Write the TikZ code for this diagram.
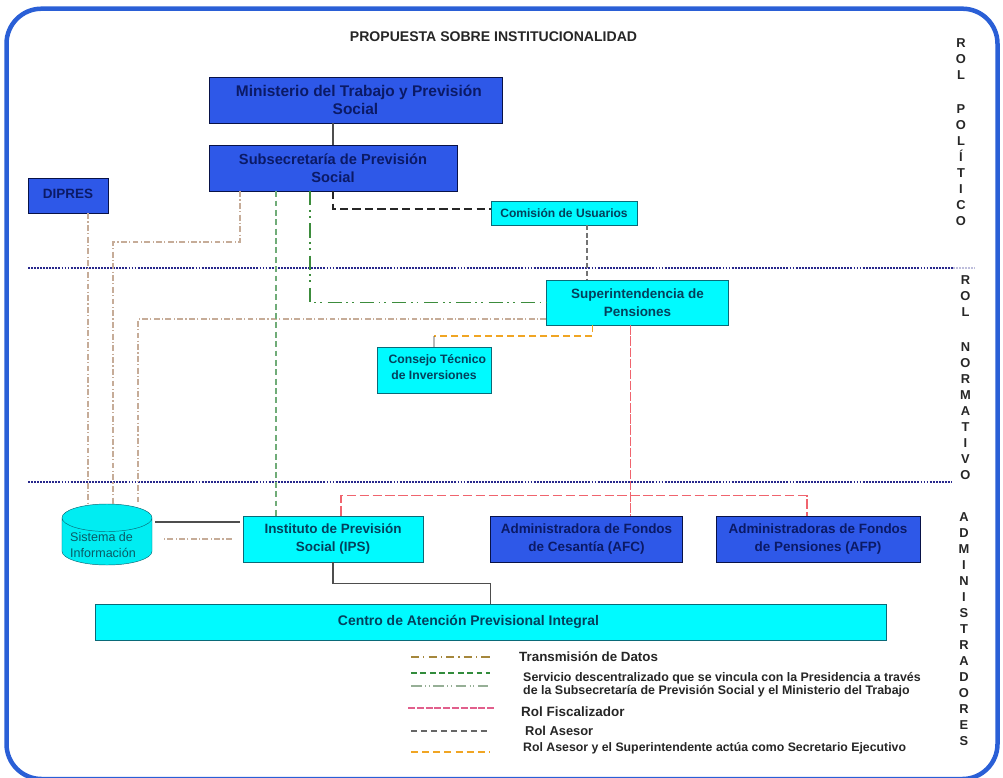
\documentclass[tikz,border=0pt]{standalone}
\usepackage{fontspec}
\setmainfont{Liberation Sans}
\usepackage[HTML]{xcolor}
\usetikzlibrary{positioning, shapes.geometric}
\definecolor{azulcaja}{HTML}{2E58E8}
\definecolor{azultexto}{HTML}{0B1A66}
\definecolor{celeste}{HTML}{00FAFF}
\definecolor{celestetexto}{HTML}{04405C}
\definecolor{bordeceleste}{HTML}{0A6A78}
\definecolor{marcoazul}{HTML}{2A5FD6}
\tikzset{
  cajaazul/.style={rectangle, draw=azultexto!70!black, fill=azulcaja, inner sep=0pt, align=center, text=azultexto, font=\bfseries\fontsize{11.5}{15.3}\selectfont},
  cajaceleste/.style={rectangle, draw=bordeceleste, fill=celeste, inner sep=0pt, align=center, text=celestetexto, font=\bfseries\fontsize{11.5}{15.3}\selectfont},
  rolletras/.style={align=center, inner sep=0pt, text=black!85, font=\bfseries\fontsize{11}{13.66}\selectfont},
  leyenda/.style={anchor=west, inner sep=0pt, align=left, text=black!85, font=\bfseries\fontsize{10.6}{11.2}\selectfont},
  nivel/.style={color={rgb,255:red,40;green,40;blue,140}, line width=1.2pt, dash pattern=on 1.6pt off 1.0pt},
  datos/.style={color={rgb,255:red,198;green,172;blue,152}, line width=0.9pt, dash pattern=on 5pt off 2pt on 1pt off 2pt},
  verdeuno/.style={color={rgb,255:red,112;green,172;blue,120}, line width=0.9pt, dash pattern=on 5pt off 3pt},
  verdedos/.style={color={rgb,255:red,60;green,140;blue,60}, line width=1.1pt, dash pattern=on 12pt off 4pt on 1.5pt off 3.5pt on 1.5pt off 5pt},
  rojo/.style={color={rgb,255:red,240;green,100;blue,110}, line width=1.1pt, dash pattern=on 8pt off 3pt},
  asesor/.style={color=black!85, line width=1.2pt, dash pattern=on 7pt off 3.6pt},
  asesorfino/.style={color=black!55, line width=0.9pt, dash pattern=on 4pt off 2.5pt},
  naranja/.style={color={rgb,255:red,240;green,165;blue,35}, line width=1.4pt, dash pattern=on 6pt off 3.5pt},
  solido/.style={color=black!70, line width=0.9pt}
}
\begin{document}
\begin{tikzpicture}[x=0.03cm, y=-0.03cm]
\useasboundingbox (0,0) rectangle (1003,777);
% rounded frame
\draw[marcoazul, line width=0.135cm, rounded corners=1.05cm] (6.5,8.7) rectangle (997.5,779);
% title
\node[inner sep=0pt, text=black!85, font=\bfseries\fontsize{12}{14}\selectfont] (titulo) at (493.5,37) {PROPUESTA SOBRE INSTITUCIONALIDAD};
% level separators
\coordinate (nivA) at (28,268); \coordinate (nivB) at (953,268); \coordinate (nivC) at (975,268);
\coordinate (nivD) at (28,482); \coordinate (nivE) at (952,482);
\draw[nivel] (nivA) -- (nivB);
\draw[nivel, opacity=0.3] (nivB) -- (nivC);
\draw[nivel] (nivD) -- (nivE);
% rol politico
\node[cajaazul, minimum width=8.79cm, minimum height=1.38cm, font=\bfseries\fontsize{13.2}{15.3}\selectfont] (min) at (355.5,100) {\hspace{0.2cm}Ministerio del Trabajo y Previsión\\Social};
\node[cajaazul, minimum width=7.44cm, minimum height=1.38cm, font=\bfseries\fontsize{12.5}{15.3}\selectfont] (sub) at (333,168) {Subsecretaría de Previsión\\Social};
\node[cajaazul, minimum width=2.4cm, minimum height=1.05cm] (dip) at (68,195.5) {\raisebox{3.4pt}{DIPRES}};
\node[cajaceleste, minimum width=4.38cm, minimum height=0.72cm, font=\bfseries\fontsize{10.3}{11}\selectfont] (com) at (564,213) {Comisión de Usuarios};
% rol normativo
\node[cajaceleste, minimum width=5.46cm, minimum height=1.35cm] (sup) at (637.5,302.5) {Superintendencia de\\Pensiones};
\node[cajaceleste, minimum width=3.42cm, minimum height=1.38cm, font=\bfseries\fontsize{10.4}{13.5}\selectfont] (con) at (434,370) {\hspace{0.2cm}Consejo Técnico\\de Inversiones\\[-8pt]\mbox{}};
% administradores
\node[cajaceleste, minimum width=5.4cm, minimum height=1.38cm] (ips) at (333,539) {Instituto de Previsión\\Social (IPS)};
\node[cajaazul, minimum width=5.76cm, minimum height=1.38cm] (afc) at (586.5,539) {Administradora de Fondos\\de Cesantía (AFC)};
\node[cajaazul, minimum width=6.12cm, minimum height=1.38cm] (afp) at (818,539) {Administradoras de Fondos\\de Pensiones (AFP)};
\node[cajaceleste, minimum width=23.73cm, minimum height=1.08cm, font=\bfseries\fontsize{11.9}{15.3}\selectfont] (cen) at (490.5,622) {Centro de Atención Previsional Integral\hspace{1.32cm}};
\node[cylinder, shape border rotate=90, aspect=0.42, anchor=shape center, draw=bordeceleste, fill=celeste!95!black, minimum width=2.7cm, minimum height=1.83cm, inner sep=0pt, font=\fontsize{10.7}{13.5}\selectfont] (sis) at (107,534.5) {\phantom{Información}};
\node[inner sep=0pt, align=left, anchor=west, text=bordeceleste!85!black, font=\fontsize{10.7}{13.5}\selectfont] (sistxt) at (70,545) {Sistema de\\Información};
% letters on the right
\node[rolletras, anchor=north] (rolpol) at (961,38) {R\\O\\L\\[16pt]P\\O\\L\\Í\\T\\I\\C\\O};
\node[rolletras, anchor=north] (rolnor) at (965.5,275.5) {R\\O\\L\\[16pt]N\\O\\R\\M\\A\\T\\I\\V\\O};
\node[rolletras, anchor=north] (roladm) at (964,512) {A\\D\\M\\I\\N\\I\\S\\T\\R\\A\\D\\O\\R\\E\\S};
% solid links
\draw[solido] (sub.north) -- (sub.north |- min.south);
\draw[solido] (ips.south) -- ++(0,21) -| (cen.north);
\coordinate (ipsa) at ([yshift=0.51cm]ips.west);
\draw[solido, shorten <=0.09cm, shorten >=0.09cm] (ipsa) -- (ipsa -| sis.east);
% data links
\coordinate (sisa) at (88,505); \coordinate (sisb) at (113,504); \coordinate (sisc) at (138,503); \coordinate (quiebre) at (240,242);
\draw[datos] (dip.south -| sisa) -- (sisa);
\draw[datos] (sub.south -| quiebre) -- (quiebre) -| (sisb);
\draw[datos] ([yshift=-0.495cm]sup.west) -| (sisc);
\coordinate (ipsb) at (ips.west);
\draw[datos, shorten <=0.33cm, shorten >=0.3cm] (ipsb) -- (ipsb -| sis.east);
% decentralised service
\draw[verdeuno] ([xshift=-1.71cm]sub.south) -- ([xshift=-1.71cm]ips.north);
\draw[verdedos] ([xshift=-0.69cm]sub.south) |- (sup.west);
% advisers
\draw[asesor] (sub.south) |- ([yshift=0.12cm]com.west);
\coordinate (comsal) at ([xshift=0.69cm]com.south);
\draw[asesorfino] (comsal) -- (comsal |- sup.north);
\coordinate (supnar) at ([xshift=-1.35cm]sup.south);
\coordinate (connar) at ([yshift=0.33cm]con.north);
\draw[naranja] (supnar) |- (connar);
\draw[solido, opacity=0.4] (connar) -- (con.north);
% supervision
\coordinate (suproj) at ([xshift=-0.21cm]sup.south);
\draw[rojo, dash pattern=on 8pt off 1.5pt] (suproj) -- (suproj |- afc.north);
\coordinate (rojoa) at ([xshift=0.24cm]ips.north);
\coordinate (rojob) at ([xshift=-0.33cm]afp.north);
\draw[rojo] (rojoa) -- ++(0,-20) -| (rojob);
% legend
\coordinate (leyAa) at (411,657); \coordinate (leyAb) at (490,657);
\coordinate (leyBa) at (411,673); \coordinate (leyBb) at (490,673);
\coordinate (leyCa) at (411,686); \coordinate (leyCb) at (490,686);
\coordinate (leyDa) at (408,708); \coordinate (leyDb) at (495,708);
\coordinate (leyEa) at (411,731); \coordinate (leyEb) at (490,731);
\coordinate (leyFa) at (411,752); \coordinate (leyFb) at (490,752);
\draw[color={rgb,255:red,165;green,135;blue,60}, line width=1.1pt, dash pattern=on 7pt off 3.5pt on 1pt off 3.5pt] (leyAa) -- (leyAb);
\draw[color={rgb,255:red,50;green,140;blue,60}, line width=1.1pt, dash pattern=on 5pt off 3pt] (leyBa) -- (leyBb);
\draw[color={rgb,255:red,150;green,175;blue,150}, line width=0.9pt, dash pattern=on 9pt off 3pt on 1pt off 2pt on 1pt off 3pt] (leyCa) -- (leyCb);
\draw[color={rgb,255:red,225;green,95;blue,140}, line width=1.1pt, dash pattern=on 6pt off 1.5pt] (leyDa) -- (leyDb);
\draw[color=black!60, line width=0.9pt, dash pattern=on 5pt off 3.5pt] (leyEa) -- (leyEb);
\draw[naranja] (leyFa) -- (leyFb);
\node[leyenda, font=\bfseries\fontsize{11.4}{13}\selectfont] (txtA) at (519,657) {Transmisión de Datos};
\node[leyenda] (txtB) at (523,684.5) {Servicio descentralizado que se vincula con la Presidencia a través\\de la Subsecretaría de Previsión Social y el Ministerio del Trabajo};
\node[leyenda, font=\bfseries\fontsize{11.5}{13}\selectfont] (txtC) at (521,712) {Rol Fiscalizador};
\node[leyenda, font=\bfseries\fontsize{11}{13}\selectfont] (txtD) at (525,731) {Rol Asesor};
\node[leyenda, font=\bfseries\fontsize{10.5}{13}\selectfont] (txtE) at (523,748) {Rol Asesor y el Superintendente actúa como Secretario Ejecutivo};
\end{tikzpicture}
\end{document}
